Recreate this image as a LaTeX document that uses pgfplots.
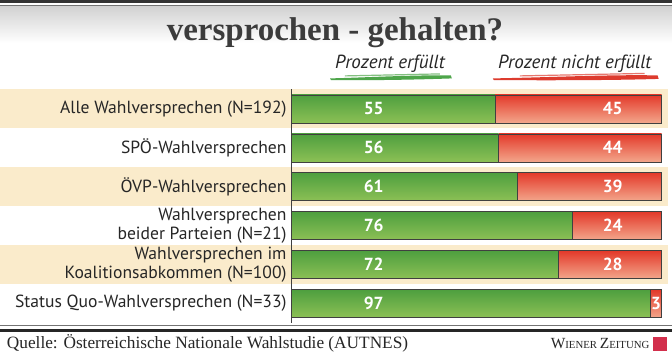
\documentclass[border=0pt]{standalone}
\usepackage{pgfplots}
\pgfplotsset{compat=1.18}
\usepackage{pgfplotstable}
\usepackage{fontspec}
\setmainfont{Liberation Serif}
\newfontfamily\labfont{PT Sans}
\newfontfamily\titfont{Liberation Serif}
\definecolor{beige}{HTML}{FAEBCB}
\definecolor{gtop}{HTML}{4E9F3F}
\definecolor{gbot}{HTML}{8CC055}
\definecolor{rtop}{HTML}{E3392A}
\definecolor{rbot}{HTML}{F3A68B}
\definecolor{txt}{HTML}{262626}
\definecolor{wzred}{HTML}{D22F4C}
\definecolor{brg}{HTML}{4EA54A}
\definecolor{brr}{HTML}{DD3B2E}

\pgfplotstableread{
idx ful nful gx rx
0 55 45 22.3 86.8
1 56 44 22.3 86.8
2 61 39 22.3 86.8
3 76 24 22.3 86.8
4 72 28 22.3 86.8
5 97 3 22.3 98.5
}\datatab

\pgfplotsset{
  rowax/.style={anchor=south west, width=371pt, height=39pt, scale only axis,
    xmin=0, xmax=100, ymin=-0.5, ymax=0.5, hide axis, clip=false,
    xbar stacked, bar width=28pt},
  gbar/.style={draw=black!75, line width=0.6pt, top color=gtop, bottom color=gbot},
  rbar/.style={draw=black!75, line width=0.6pt, top color=rtop, bottom color=rbot},
}

\begin{document}
\begin{tikzpicture}
% canvas
\fill[white] (0pt,0pt) rectangle (672pt,355pt);
% top rules and gradient
\shade[top color=black!18, bottom color=white] (0pt,349pt) rectangle (672pt,312pt);
\fill[black!80] (0pt,355pt) rectangle (672pt,351.5pt);
\fill[black!55] (0pt,350.2pt) rectangle (672pt,348.8pt);
% title
\node[font=\titfont\bfseries\fontsize{33}{35}\selectfont, text=txt!90] at (335pt,322pt) {versprochen - gehalten?};
% legend
\node[font=\labfont\itshape\fontsize{19}{20}\selectfont, text=txt] at (390pt,291pt) {Prozent erfüllt};
\node[font=\labfont\itshape\fontsize{19}{20}\selectfont, text=txt] at (575pt,291pt) {Prozent nicht erfüllt};
% brush strokes
\fill[brg] (330pt,276.5pt) .. controls (370pt,277.5pt) and (410pt,280pt) .. (451pt,279.5pt) -- (452pt,276.5pt) .. controls (410pt,275pt) and (370pt,274.5pt) .. (331pt,274.8pt) -- cycle;
\draw[brg!70!white, line width=1.2pt] (345pt,279pt) -- (440pt,281pt);
\fill[brr] (493pt,276.5pt) .. controls (550pt,277.5pt) and (610pt,280.5pt) .. (658pt,279.5pt) -- (659pt,276pt) .. controls (610pt,274.5pt) and (550pt,274.5pt) .. (494pt,274.8pt) -- cycle;
\draw[brr!70!white, line width=1.2pt] (520pt,279pt) -- (645pt,281.5pt);
% bands
\fill[beige] (0pt,226.5pt) rectangle (668pt,265.5pt);
\fill[beige] (0pt,148.5pt) rectangle (668pt,187.5pt);
\fill[beige] (0pt,70.5pt) rectangle (668pt,109.5pt);
% bars, one row each
\begin{axis}[rowax, at={(291pt,226.5pt)}]
\addplot[gbar] coordinates {(55,0)};
\addplot[rbar] coordinates {(45,0)};
\end{axis}
\begin{axis}[rowax, at={(291pt,187.5pt)}]
\addplot[gbar] coordinates {(56,0)};
\addplot[rbar] coordinates {(44,0)};
\end{axis}
\begin{axis}[rowax, at={(291pt,148.5pt)}]
\addplot[gbar] coordinates {(61,0)};
\addplot[rbar] coordinates {(39,0)};
\end{axis}
\begin{axis}[rowax, at={(291pt,109.5pt)}]
\addplot[gbar] coordinates {(76,0)};
\addplot[rbar] coordinates {(24,0)};
\end{axis}
\begin{axis}[rowax, at={(291pt,70.5pt)}]
\addplot[gbar] coordinates {(72,0)};
\addplot[rbar] coordinates {(28,0)};
\end{axis}
\begin{axis}[rowax, at={(291pt,31.5pt)}]
\addplot[gbar] coordinates {(97,0)};
\addplot[rbar] coordinates {(3,0)};
\end{axis}
% main axis: category labels, axis line, value labels
\begin{axis}[
  at={(291pt,31.5pt)}, anchor=south west,
  width=371pt, height=234pt, scale only axis,
  xmin=0, xmax=100, ymin=-0.5, ymax=5.5, y dir=reverse,
  axis x line=none,
  axis y line*=left,
  y axis line style={-, draw=black!75, line width=0.8pt},
  ytick={0,...,5},
  major tick length=0pt,
  yticklabels={Alle Wahlversprechen (N=192), SPÖ-Wahlversprechen, ÖVP-Wahlversprechen, {Wahlversprechen\\beider Parteien (N=21)}, {Wahlversprechen im\\Koalitionsabkommen (N=100)}, Status Quo-Wahlversprechen (N=33)},
  yticklabel style={align=right, font=\labfont\fontsize{17.6}{18.5}\selectfont, text=txt, xshift=-1pt},
  clip=false,
  nodes near coords={\pgfplotspointmeta},
  every node near coord/.style={anchor=center, text=white, font=\labfont\bfseries\fontsize{17.5}{18}\selectfont},
]
\addplot[only marks, mark=*, mark size=0pt, mark options={draw=none, fill=none}, point meta=explicit symbolic] table[x=gx, y=idx, meta=ful] {\datatab};
\addplot[only marks, mark=*, mark size=0pt, mark options={draw=none, fill=none}, point meta=explicit symbolic] table[x=rx, y=idx, meta=nful] {\datatab};
\end{axis}
% bottom rules
\draw[black!55, line width=0.8pt] (0pt,29pt) -- (672pt,29pt);
\fill[black!85] (0pt,26pt) rectangle (672pt,22.3pt);
% source
\node[anchor=west, font=\fontsize{17.3}{19}\selectfont, text=txt] at (3pt,11pt) {Quelle: Österreichische Nationale Wahlstudie (AUTNES)};
\node[anchor=east, font=\titfont, text=txt, inner sep=0pt] at (650pt,11pt) {\fontsize{15.5}{18}\selectfont W\fontsize{10.8}{14}\selectfont IENER \fontsize{15.5}{18}\selectfont Z\fontsize{10.8}{14}\selectfont EITUNG};
\fill[wzred] (653pt,4pt) rectangle (667pt,18pt);
\end{tikzpicture}
\end{document}
